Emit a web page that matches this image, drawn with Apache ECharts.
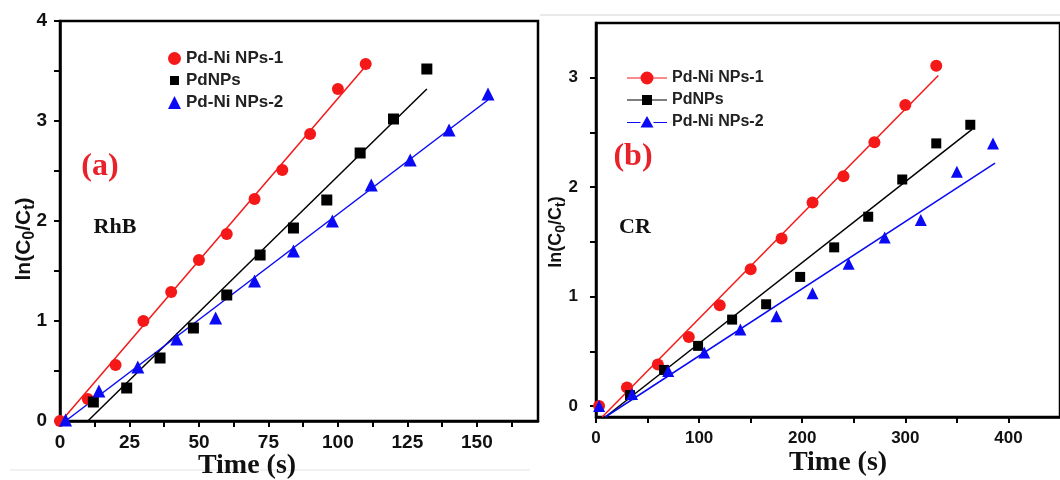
<!DOCTYPE html>
<html>
<head>
<meta charset="utf-8">
<script src="https://cdn.jsdelivr.net/npm/echarts@6/dist/echarts.min.js"></script>
<style>
  html, body { margin: 0; padding: 0; background: #fff; }
  #chart { width: 1060px; height: 480px; }
</style>
</head>
<body>
<div id="chart"></div>
<script>
// (a) RhB  -- time (s) vs ln(C0/Ct)
const rhbTime1 = [0, 10, 20, 30, 40, 50, 60, 70, 80, 90, 100, 110];
const rhbLn1 = [0, 0.22, 0.56, 1.0, 1.29, 1.61, 1.87, 2.22, 2.51, 2.87, 3.32, 3.57];
const rhbTimePd = [12, 24, 36, 48, 60, 72, 84, 96, 108, 120, 132];
const rhbLnPd = [0.19, 0.33, 0.63, 0.93, 1.26, 1.66, 1.93, 2.21, 2.68, 3.02, 3.52];
const rhbTime2 = [2, 14, 28, 42, 56, 70, 84, 98, 112, 126, 140, 154];
const rhbLn2 = [0.01, 0.30, 0.54, 0.82, 1.03, 1.40, 1.70, 2.00, 2.36, 2.61, 2.91, 3.27];
// fitted lines (end points)
const rhbFit1 = [[0.5, 0], [110, 3.55]];
const rhbFitPd = [[10, 0], [132, 3.32]];
const rhbFit2 = [[2, 0], [154, 3.21]];

// (b) CR
const crTime1 = [3, 30, 60, 90, 120, 150, 180, 210, 240, 270, 300, 330];
const crLn1 = [0, 0.17, 0.38, 0.63, 0.92, 1.25, 1.53, 1.86, 2.10, 2.41, 2.75, 3.11];
const crTimePd = [33, 66, 99, 132, 165, 198, 231, 264, 297, 330, 363];
const crLnPd = [0.10, 0.33, 0.55, 0.79, 0.93, 1.18, 1.45, 1.73, 2.07, 2.40, 2.57];
const crTime2 = [3, 35, 70, 105, 140, 175, 210, 245, 280, 315, 350, 385];
const crLn2 = [0, 0.11, 0.32, 0.49, 0.70, 0.82, 1.03, 1.30, 1.54, 1.70, 2.14, 2.40];
const crFit1 = [[6, -0.1], [332, 3.02]];
const crFitPd = [[9, -0.1], [365, 2.53]];
const crFit2 = [[9, -0.1], [387, 2.22]];

// ticks
const rhbTimeTicks = [0, 12.5, 25, 37.5, 50, 62.5, 75, 87.5, 100, 112.5, 125, 137.5, 150, 162.5];
const rhbTimeLabels = [0, 25, 50, 75, 100, 125, 150];
const rhbLnTicks = [0, 0.5, 1, 1.5, 2, 2.5, 3, 3.5, 4];
const rhbLnLabels = [0, 1, 2, 3, 4];
const crTimeTicks = [0, 50, 100, 150, 200, 250, 300, 350, 400];
const crTimeLabels = [0, 100, 200, 300, 400];
const crLnTicks = [0, 0.5, 1, 1.5, 2, 2.5, 3];
const crLnLabels = [0, 1, 2, 3];

const names = ['Pd-Ni NPs-1', 'PdNPs', 'Pd-Ni NPs-2'];
const RED = '#f51818', BLACK = '#000', BLUE = '#0a0af5';

const sans = '"Liberation Sans", Arial, sans-serif';
const serif = '"Liberation Serif", "Times New Roman", serif';

function pts(t, v) { return t.map((x, i) => [x, v[i]]); }

function scatter(name, data, idx, symbol, size, color) {
  return {
    type: 'scatter', name: name, xAxisIndex: idx, yAxisIndex: idx,
    symbol: symbol, symbolSize: size, itemStyle: { color: color, opacity: 1 },
    data: data, z: 3, silent: true
  };
}
function fit(data, idx, color) {
  return {
    type: 'line', xAxisIndex: idx, yAxisIndex: idx, data: data,
    symbol: 'none', lineStyle: { color: color, width: 1.5 }, z: 2, silent: true
  };
}

function xAxis(idx, max, ticks, labels, fs, margin) {
  return {
    type: 'value', gridIndex: idx, min: 0, max: max,
    axisLine: { show: true, onZero: false, lineStyle: { color: '#000', width: 2.5 } },
    axisTick: { show: true, inside: false, length: 6, customValues: ticks, lineStyle: { color: '#000', width: 2 } },
    axisLabel: { customValues: labels, fontFamily: sans, fontWeight: 'bold', fontSize: fs, color: '#111', margin: margin },
    splitLine: { show: false }
  };
}
function yAxis(idx, min, max, ticks, labels, fs, margin) {
  return {
    type: 'value', gridIndex: idx, min: min, max: max,
    axisLine: { show: true, onZero: false, lineStyle: { color: '#000', width: 2.5 } },
    axisTick: { show: true, inside: false, length: 6, customValues: ticks, lineStyle: { color: '#000', width: 2 } },
    axisLabel: { customValues: labels, fontFamily: sans, fontWeight: 'bold', fontSize: fs, color: '#111', margin: margin },
    splitLine: { show: false }
  };
}

function label(text, x, y, font, color, rot, subSize) {
  return {
    type: 'text', x: x, y: y, rotation: rot || 0, silent: true,
    style: {
      text: text, font: font, fill: color,
      align: 'center', verticalAlign: 'middle', textAlign: 'center', textVerticalAlign: 'middle',
      rich: { s: { fontFamily: sans, fontWeight: 'bold', fontSize: subSize || 12, fill: color, verticalAlign: 'bottom', padding: [Math.round((subSize || 12) * 0.7), 0, 0, 0] } }
    }
  };
}

const chart = echarts.init(document.getElementById('chart'), null, { renderer: 'canvas' });

chart.setOption({
  animation: false,
  backgroundColor: '#fff',
  grid: [
    { left: 60, top: 21, width: 478, height: 400, show: true, borderColor: '#000', borderWidth: 2.5, backgroundColor: 'transparent' },
    { left: 596, top: 23, width: 466, height: 394, show: true, borderColor: '#000', borderWidth: 2.5, backgroundColor: 'transparent' }
  ],
  xAxis: [
    xAxis(0, 172, rhbTimeTicks, rhbTimeLabels, 19, 12),
    xAxis(1, 450, crTimeTicks, crTimeLabels, 17, 13)
  ],
  yAxis: [
    yAxis(0, 0, 4, rhbLnTicks, rhbLnLabels, 19, 13),
    yAxis(1, -0.1, 3.5, crLnTicks, crLnLabels, 17, 18)
  ],
  legend: [
    {
      left: 163, top: 45, orient: 'vertical', itemGap: 5, itemWidth: 13, itemHeight: 13,
      selectedMode: false,
      textStyle: { fontFamily: sans, fontWeight: 'bold', fontSize: 17, color: '#222' },
      data: [
        { name: names[0], icon: 'circle' },
        { name: names[1], icon: 'path://M0,0M2,2H11V11H2ZM13,13' },
        { name: names[2], icon: 'triangle' }
      ]
    },
    {
      left: 622, top: 65, orient: 'vertical', itemGap: 6, itemWidth: 40, itemHeight: 13,
      selectedMode: false,
      formatter: n => n.replace('CR ', ''),
      textStyle: { fontFamily: sans, fontWeight: 'bold', fontSize: 16, color: '#222' },
      data: [
        { name: 'CR ' + names[0], icon: 'path://M0,6H13.5V7H0ZM26.5,6H40V7H26.5ZM13.5,6.5A6.5,6.5,0,1,1,26.5,6.5A6.5,6.5,0,1,1,13.5,6.5Z' },
        { name: 'CR ' + names[1], icon: 'path://M0,0M0,6H15V7H0ZM25,6H40V7H25ZM15,1.5H25V11.5H15ZM40,13' },
        { name: 'CR ' + names[2], icon: 'path://M0,0M0,6.5H13.5V7.5H0ZM26.5,6.5H40V7.5H26.5ZM20,0.5L26.5,12H13.5ZM40,13' }
      ]
    }
  ],
  graphic: [
    { type: 'line', silent: true, shape: { x1: 540, y1: 15, x2: 1060, y2: 15 }, style: { stroke: '#e2e2e2', lineWidth: 1.5 } },
    { type: 'line', silent: true, shape: { x1: 10, y1: 470, x2: 530, y2: 470 }, style: { stroke: '#ececec', lineWidth: 1.5 } },
    label('(a)', 100, 167, 'bold 32px ' + serif, '#e8222a'),
    label('RhB', 115, 227, 'bold 22px ' + serif, '#111'),
    label('(b)', 633, 157, 'bold 32px ' + serif, '#e8222a'),
    label('CR', 635, 227, 'bold 22px ' + serif, '#111'),
    label('Time (s)', 247, 466, 'bold 28px ' + serif, '#111'),
    label('Time (s)', 838, 463, 'bold 28px ' + serif, '#111'),
    label('ln(C{s|0}/C{s|t})', 24, 239, 'bold 21px ' + sans, '#111', Math.PI / 2, 16),
    label('ln(C{s|0}/C{s|t})', 556, 232, 'bold 18px ' + sans, '#111', Math.PI / 2, 14)
  ],
  series: [
    fit(rhbFit1, 0, RED),
    fit(rhbFitPd, 0, BLACK),
    fit(rhbFit2, 0, BLUE),
    scatter(names[0], pts(rhbTime1, rhbLn1), 0, 'circle', 12, RED),
    scatter(names[1], pts(rhbTimePd, rhbLnPd), 0, 'rect', 11, BLACK),
    scatter(names[2], pts(rhbTime2, rhbLn2), 0, 'triangle', 13, BLUE),
    fit(crFit1, 1, RED),
    fit(crFitPd, 1, BLACK),
    fit(crFit2, 1, BLUE),
    scatter('CR ' + names[0], pts(crTime1, crLn1), 1, 'circle', 12, RED),
    scatter('CR ' + names[1], pts(crTimePd, crLnPd), 1, 'rect', 10, BLACK),
    scatter('CR ' + names[2], pts(crTime2, crLn2), 1, 'triangle', 12, BLUE)
  ]
});
</script>
</body>
</html>
